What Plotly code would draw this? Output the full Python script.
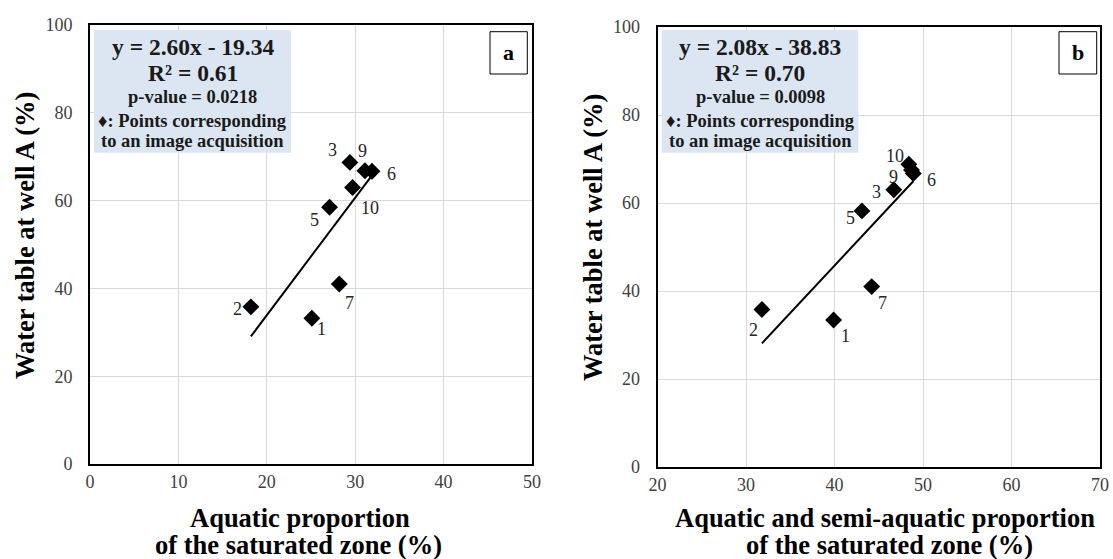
import numpy as np
import plotly.graph_objects as go

# ---------------- data ----------------
labels_a = ["1", "2", "3", "5", "6", "7", "9", "10"]
aquatic_pct = [25.1, 18.2, 29.4, 27.1, 31.9, 28.2, 31.1, 29.7]
water_a = [33.2, 35.8, 68.7, 58.5, 66.7, 41.0, 66.8, 63.0]

labels_b = ["1", "2", "3", "5", "6", "7", "9", "10"]
semi_aquatic_pct = [39.9, 31.8, 46.7, 43.1, 48.9, 44.2, 48.7, 48.4]
water_b = [33.4, 35.8, 63.0, 58.2, 66.7, 41.0, 67.5, 68.8]

eq_text_a = ["y = 2.60x - 19.34", "R² = 0.61", "p-value = 0.0218"]
eq_text_b = ["y = 2.08x - 38.83", "R² = 0.70", "p-value = 0.0098"]

xticks_a = [0, 10, 20, 30, 40, 50]
xticks_b = [20, 30, 40, 50, 60, 70]
yticks = [0, 20, 40, 60, 80, 100]

# label offsets from each point, in pixels (right, down) -- styling only
off_a = [(10, 11), (-13, 2), (-17, -12), (-15, 13), (19, 3), (10, 19), (-2, -20), (17, 21)]
off_b = [(12, 16), (-8, 21), (-17, 2), (-11, 7), (18, 6), (11, 16), (-18, 7), (-14, -8)]

W, H = 1113, 559
SERIF = "Liberation Serif, Times New Roman, serif"
TITLE_SIZE = 26.5

# pixel geometry of the two plot frames
A = dict(l=90, r=532, t=25, b=464)
B = dict(l=657.5, r=1100, t=27, b=467)


def xdom(p):
    return [p["l"] / W, p["r"] / W]


def ydom(p):
    return [1 - p["b"] / H, 1 - p["t"] / H]


fig = go.Figure()

# least-squares trend lines through the points
for xs, ys, xr, yr in [(aquatic_pct, water_a, "x", "y"), (semi_aquatic_pct, water_b, "x2", "y2")]:
    k, c = np.polyfit(xs, ys, 1)
    xl = [min(xs), max(xs)]
    fig.add_trace(go.Scatter(x=xl, y=[k * v + c for v in xl], mode="lines",
                             line=dict(color="black", width=2), xaxis=xr, yaxis=yr,
                             showlegend=False, hoverinfo="skip"))

# points
for xs, ys, xr, yr in [(aquatic_pct, water_a, "x", "y"), (semi_aquatic_pct, water_b, "x2", "y2")]:
    fig.add_trace(go.Scatter(x=xs, y=ys, mode="markers",
                             marker=dict(symbol="diamond", size=13, color="black"),
                             xaxis=xr, yaxis=yr, showlegend=False))

axis_common = dict(showgrid=True, gridcolor="#d9d9d9", gridwidth=1, zeroline=False,
                   showline=True, linecolor="black", linewidth=2, mirror=True,
                   ticks="", tickfont=dict(family=SERIF, size=18, color="#404040"),
                   fixedrange=True, automargin=False)

fig.update_layout(
    template="none",
    width=W, height=H,
    margin=dict(l=0, r=0, t=0, b=0, pad=0, autoexpand=False),
    paper_bgcolor="white", plot_bgcolor="white",
    xaxis=dict(domain=xdom(A), range=[0, 50], tickvals=xticks_a, anchor="y", **axis_common),
    yaxis=dict(domain=ydom(A), range=[0, 100], tickvals=yticks, anchor="x",
               ticklabelstandoff=12, **axis_common),
    xaxis2=dict(domain=xdom(B), range=[20, 70], tickvals=xticks_b, anchor="y2", **axis_common),
    yaxis2=dict(domain=ydom(B), range=[0, 100], tickvals=yticks, anchor="x2",
                ticklabelstandoff=12, **axis_common),
)

shapes = []
annotations = []

# point number labels
for labs, xs, ys, offs, xr, yr in [(labels_a, aquatic_pct, water_a, off_a, "x", "y"),
                                   (labels_b, semi_aquatic_pct, water_b, off_b, "x2", "y2")]:
    for lab, xv, yv, (dx, dy) in zip(labs, xs, ys, offs):
        annotations.append(dict(text=lab, x=xv, y=yv, xref=xr, yref=yr, showarrow=False,
                                xanchor="center", yanchor="middle", xshift=dx, yshift=-dy,
                                font=dict(family=SERIF, size=18, color="#262626")))


def px_to_paper(x, y):
    return x / W, 1 - y / H


def add_box(box, texts, letter, letterbox):
    x0, y0, x1, y1 = box
    px0, py1 = px_to_paper(x0, y0)
    px1, py0 = px_to_paper(x1, y1)
    shapes.append(dict(type="rect", xref="paper", yref="paper", x0=px0, x1=px1, y0=py0, y1=py1,
                       fillcolor="#dce6f2", line=dict(width=0), layer="above"))
    cx = (x0 + x1) / 2
    lines = [(texts[0], 23.5, 46.5), (texts[1], 23.5, 73), (texts[2], 18.5, 97),
             ("♦: Points corresponding", 18.5, 120.5), ("to an image acquisition", 18.5, 141)]
    for txt, fs, yy in lines:
        ax, ay = px_to_paper(cx, yy)
        annotations.append(dict(text="<b>" + txt + "</b>", x=ax, y=ay, xref="paper", yref="paper",
                                showarrow=False, xanchor="center", yanchor="middle",
                                font=dict(family=SERIF, size=fs, color="#1a1a1a")))
    lx0, ly0, lx1, ly1 = letterbox
    qx0, qy1 = px_to_paper(lx0, ly0)
    qx1, qy0 = px_to_paper(lx1, ly1)
    shapes.append(dict(type="rect", xref="paper", yref="paper", x0=qx0, x1=qx1, y0=qy0, y1=qy1,
                       fillcolor="white", line=dict(color="black", width=1), layer="above"))
    lcx, lcy = px_to_paper((lx0 + lx1) / 2, (ly0 + ly1) / 2)
    annotations.append(dict(text="<b>" + letter + "</b>", x=lcx, y=lcy, xref="paper", yref="paper",
                            showarrow=False, xanchor="center", yanchor="middle",
                            font=dict(family=SERIF, size=22, color="black")))


add_box((94, 30, 291, 152.7), eq_text_a, "a", (490, 31.7, 527.3, 74))
add_box((661.7, 30, 858.3, 152.7), eq_text_b, "b", (1059, 31.7, 1096.7, 74))


# axis titles
def title(txt, x, y, angle=0):
    ax, ay = px_to_paper(x, y)
    annotations.append(dict(text="<b>" + txt + "</b>", x=ax, y=ay, xref="paper", yref="paper",
                            showarrow=False, xanchor="center", yanchor="middle", textangle=angle,
                            font=dict(family=SERIF, size=TITLE_SIZE, color="black")))


title("Water table at well A (%)", 25, 236, -90)
title("Water table at well A (%)", 593, 238, -90)
title("Aquatic proportion", 300, 517.5)
title("of the saturated zone (%)", 298, 545)
title("Aquatic and semi-aquatic proportion", 885, 518)
title("of the saturated zone (%)", 889, 545)

fig.update_layout(shapes=shapes, annotations=annotations)

fig.write_html("out.html", config={"displayModeBar": False},
               post_script="document.body.style.margin='0px';"
                           "document.body.style.overflow='hidden';")
